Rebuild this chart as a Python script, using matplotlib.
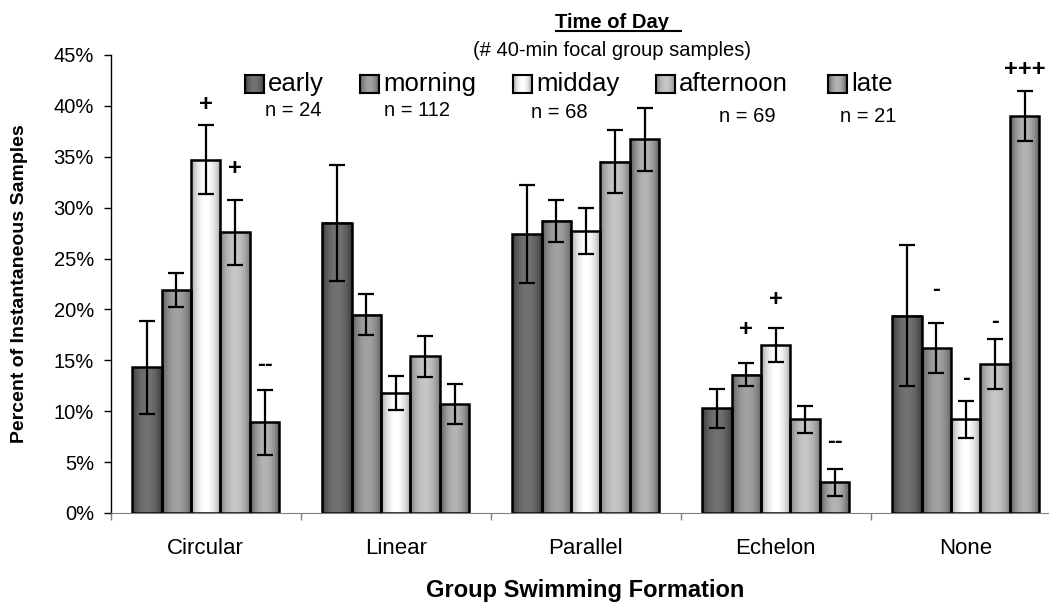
import numpy as np
import matplotlib.pyplot as plt
from matplotlib.colors import LinearSegmentedColormap
from matplotlib.ticker import FuncFormatter

plt.rcParams['font.family'] = ['Liberation Sans', 'DejaVu Sans']

# Data (percent of instantaneous samples)
categories = ['Circular', 'Linear', 'Parallel', 'Echelon', 'None']
series = ['early', 'morning', 'midday', 'afternoon', 'late']
n_labels = ['n = 24', 'n = 112', 'n = 68', 'n = 69', 'n = 21']

early = [14.3, 28.5, 27.4, 10.3, 19.4]
morning = [21.9, 19.5, 28.7, 13.6, 16.2]
midday = [34.7, 11.8, 27.7, 16.5, 9.2]
afternoon = [27.6, 15.4, 34.5, 9.2, 14.6]
late = [8.9, 10.7, 36.7, 3.0, 39.0]

early_err = [4.6, 5.7, 4.85, 1.9, 6.9]
morning_err = [1.7, 2.05, 2.1, 1.15, 2.45]
midday_err = [3.4, 1.7, 2.25, 1.7, 1.85]
afternoon_err = [3.2, 2.0, 3.1, 1.35, 2.45]
late_err = [3.2, 2.0, 3.05, 1.35, 2.45]

# significance marks: (series index, category index, mark, height in %)
marks = [(2, 0, '+', 40.1), (3, 0, '+', 33.8), (4, 0, '--', 14.6),
         (1, 3, '+', 18.0), (2, 3, '+', 21.0), (4, 3, '--', 7.0),
         (1, 4, '-', 22.0), (2, 4, '-', 13.2), (3, 4, '-', 18.8),
         (4, 4, '+++', 43.6)]

values = [early, morning, midday, afternoon, late]
errors = [early_err, morning_err, midday_err, afternoon_err, late_err]

# (edge shade, centre shade) for the cylinder-like gradient
shades = [('#353535', '#727272'), ('#555555', '#a2a2a2'),
          ('#979797', '#ffffff'), ('#767676', '#c6c6c6'),
          ('#4a4a4a', '#b4b4b4')]
cmaps = [LinearSegmentedColormap.from_list(s, c) for s, c in zip(series, shades)]
t = np.linspace(0, 1, 64)
grad = (np.sin(np.pi * t) ** 0.7)[None, :]

W, H = 1049, 609


def fx(x):
    return x / W


def fy(y):
    return 1 - y / H


fig = plt.figure(figsize=(W / 100, H / 100), dpi=100)
ax = fig.add_axes([fx(110.7), fy(513), 950 / W, (513 - 55) / H])

bw = 0.155
x = np.arange(len(categories))
for i, name in enumerate(series):
    xs = x + (i - 2) * bw
    for xc, v in zip(xs, values[i]):
        ax.imshow(grad, cmap=cmaps[i], vmin=0, vmax=1, aspect='auto',
                  extent=[xc - bw / 2, xc + bw / 2, 0, v], zorder=1,
                  interpolation='bilinear')
    ax.bar(xs, values[i], bw, facecolor='none', edgecolor='black',
           linewidth=1.8, zorder=2)
    ax.errorbar(xs, values[i], yerr=errors[i], fmt='none', ecolor='black',
                elinewidth=1.6, capsize=6, capthick=1.6, zorder=3)

for si, ci, m, yv in marks:
    ax.text(ci + (si - 2) * bw, yv, m, ha='center', va='center',
            fontsize=17, fontweight='bold')

ax.set_xlim(-0.5, 4.5)
ax.set_ylim(0, 45)
ax.set_yticks(np.arange(0, 46, 5))
ax.yaxis.set_major_formatter(FuncFormatter(lambda v, p: '%d%%' % v))
ax.set_xticks(x)
ax.set_xticklabels(categories, fontsize=16)
ax.set_xticks(np.arange(-0.5, 5, 1), minor=True)
ax.tick_params(axis='x', which='major', length=0, pad=18)
ax.tick_params(axis='x', which='minor', length=5, color='#808080', width=1)
ax.tick_params(axis='y', labelsize=14.5, length=5, width=1, pad=7)
for s in ['top', 'right']:
    ax.spines[s].set_visible(False)
ax.spines['bottom'].set_color('#808080')
ax.spines['left'].set_linewidth(1)

fig.text(fx(585), fy(590), 'Group Swimming Formation', ha='center',
         va='center', fontsize=17, fontweight='bold')
fig.text(fx(20), fy(284), 'Percent of Instantaneous Samples', ha='center',
         va='center', rotation=90, fontsize=14, fontweight='bold')

# legend header
fig.text(fx(615), fy(22), 'Time of Day ', ha='center', va='center',
         fontsize=14.5, fontweight='bold')
fig.add_artist(plt.Line2D([fx(556), fx(681)], [fy(31), fy(31)],
                          color='black', lw=1.5))
fig.text(fx(612), fy(51), '(# 40-min focal group samples)', ha='center',
         va='center', fontsize=14.5)

# legend entries drawn by hand
sq_left = [245, 360, 513, 656, 828]
n_x = [293, 417, 559, 747, 868]
n_y = [111, 111, 112, 117, 117]
for i, name in enumerate(series):
    lax = fig.add_axes([fx(sq_left[i]), fy(93), 19 / W, 18 / H])
    lax.imshow(grad, cmap=cmaps[i], vmin=0, vmax=1, aspect='auto',
               interpolation='bilinear')
    lax.set_xticks([])
    lax.set_yticks([])
    for sp in lax.spines.values():
        sp.set_linewidth(1.5)
    fig.text(fx(sq_left[i] + 23), fy(84), name, ha='left', va='center',
             fontsize=18.5)
    fig.text(fx(n_x[i]), fy(n_y[i]), n_labels[i], ha='center', va='center',
             fontsize=14.5)

plt.savefig('out.png', dpi=100)
